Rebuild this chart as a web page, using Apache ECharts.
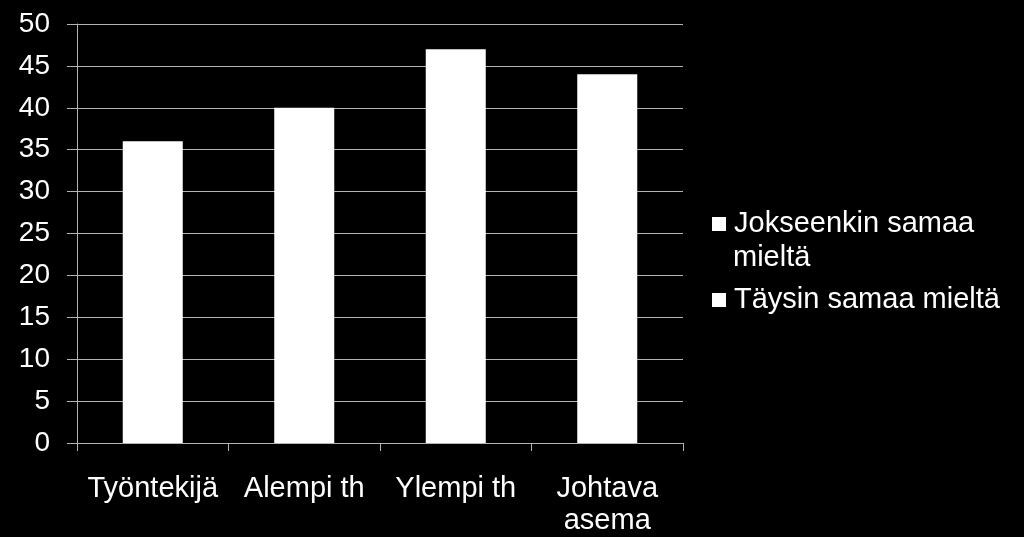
<!DOCTYPE html>
<html><head><meta charset="utf-8">
<script src="https://cdn.jsdelivr.net/npm/echarts@6/dist/echarts.min.js"></script>
<style>html,body{margin:0;padding:0;background:#000;}#c{width:1024px;height:537px;}</style>
</head><body><div id="c"></div>
<script>
const categories = ['Työntekijä', 'Alempi th', 'Ylempi th', 'Johtava\nasema'];
const seriesNames = ['Jokseenkin samaa mieltä', 'Täysin samaa mieltä'];
const jokseenkin = [36, 40, 47, 44];
const taysin = [null, null, null, null];
const yTicks = { min: 0, max: 50, interval: 5 };

const chart = echarts.init(document.getElementById('c'), null, { renderer: 'canvas' });
const font = '"Liberation Sans", Arial, sans-serif';
const legendText = { color: '#fff', fontSize: 29, fontFamily: font, lineHeight: 34, padding: [0, 0, 0, 3] };
chart.setOption({
  backgroundColor: '#000',
  animation: false,
  grid: { left: 77, right: 341, top: 24, bottom: 91 },
  legend: [
    {
      orient: 'vertical', left: 712, top: 207, padding: 0,
      icon: 'rect', itemWidth: 14, itemHeight: 14,
      data: [seriesNames[0]],
      formatter: () => 'Jokseenkin samaa',
      textStyle: legendText
    },
    {
      orient: 'vertical', left: 712, top: 283, padding: 0,
      icon: 'rect', itemWidth: 14, itemHeight: 14,
      data: [seriesNames[1]],
      textStyle: legendText
    }
  ],
  graphic: [{
    type: 'text', left: 733, top: 243, silent: true,
    style: { text: 'mieltä', fill: '#fff', font: '29px ' + font }
  }],
  xAxis: {
    type: 'category', data: categories,
    axisLine: { lineStyle: { color: '#b4b4b4', width: 1 } },
    axisTick: { show: true, length: 8, alignWithLabel: false, lineStyle: { color: '#b4b4b4' } },
    axisLabel: { color: '#fff', fontSize: 29, fontFamily: font, margin: 30, lineHeight: 32, interval: 0 }
  },
  yAxis: {
    type: 'value', min: yTicks.min, max: yTicks.max, interval: yTicks.interval,
    axisLine: { show: true, lineStyle: { color: '#b4b4b4', width: 1 } },
    axisTick: { show: true, length: 10, inside: false, lineStyle: { color: '#b4b4b4' } },
    splitLine: { lineStyle: { color: '#b4b4b4', width: 1 } },
    axisLabel: { color: '#fff', fontSize: 28, fontFamily: font, margin: 27 }
  },
  series: [
    { name: seriesNames[0], type: 'bar', stack: 's', data: jokseenkin, barWidth: 60, itemStyle: { color: '#fff' } },
    { name: seriesNames[1], type: 'bar', stack: 's', data: taysin, barWidth: 60, itemStyle: { color: '#fff' } }
  ]
});
</script></body></html>
